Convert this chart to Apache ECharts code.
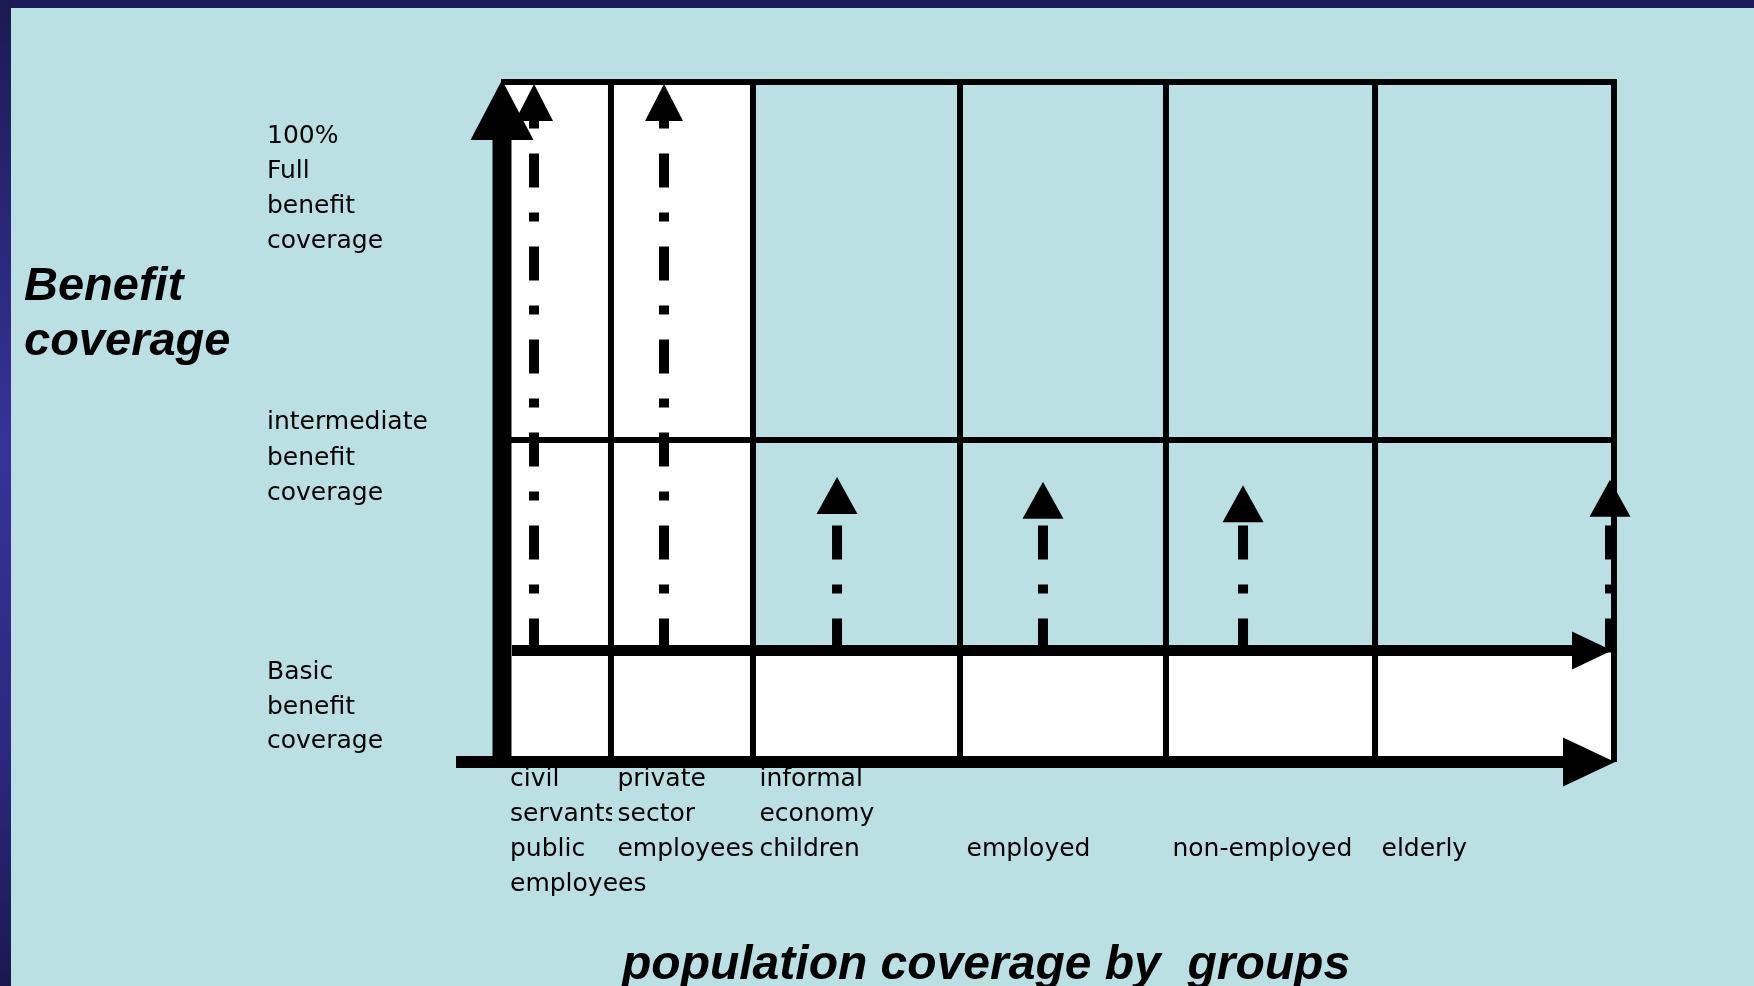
<!DOCTYPE html>
<html><head><meta charset="utf-8">
<script src="https://cdn.jsdelivr.net/npm/echarts@6/dist/echarts.min.js"></script>
<style>html,body{margin:0;padding:0;background:#BAE0E3}#c{width:1754px;height:986px}</style>
</head><body><div id="c"></div>
<script>
// ---- data ----
const groupLabels = ['civil\nservants\npublic\nemployees', 'private\nsector\nemployees', 'informal\neconomy\nchildren', '\n\nemployed', '\n\nnon-employed', '\n\nelderly'];
const groupEdges = [0, 9.80, 22.57, 41.19, 59.71, 78.51, 100];   // column boundaries on the population axis
const whiteTop = [100, 100, 16.4, 16.4, 16.4, 16.4];              // height of the white (covered) part of each column
const levelValues = [16.4, 47.35, 100];                           // basic, intermediate, full
const levelLabels = ['Basic\nbenefit\ncoverage', 'intermediate\nbenefit\ncoverage', '100%\nFull\nbenefit\ncoverage'];
const arrowX = [2.88, 14.57, 30.13, 48.65, 66.64, 99.64];         // position of each group's arrow
const arrowTop = [99.7, 99.7, 41.9, 41.2, 40.7, 41.5];            // tip of each group's arrow
const yTitle = 'Benefit\ncoverage';
const xTitle = 'population coverage by  groups';

const LBL = '"DejaVu Sans", sans-serif';
const chart = echarts.init(document.getElementById('c'), null, {renderer: 'canvas'});

const colData = groupEdges.slice(0, -1).map((e, i) => [e, groupEdges[i + 1], whiteTop[i], i]);
const labelLines = groupLabels.map(s => s.split('\n'));

chart.setOption({
  backgroundColor: '#BAE0E3',
  animation: false,
  grid: {left: 502, right: 140, top: 82, bottom: 224},
  xAxis: {type: 'value', min: 0, max: 100, show: false},
  yAxis: {type: 'value', min: 0, max: 100, show: false},
  graphic: [
    {type: 'rect', left: 0, top: 0, z: 100, shape: {width: 1754, height: 8}, style: {fill: '#1D1B57'}},
    {type: 'rect', left: 0, top: 0, z: 100, shape: {width: 11, height: 986}, style: {fill: new echarts.graphic.LinearGradient(0, 0, 0, 1, [
      {offset: 0, color: '#1C1A52'}, {offset: 0.45, color: '#36339A'}, {offset: 0.75, color: '#2C2980'}, {offset: 1, color: '#1B1850'}])}},
    {type: 'text', x: 24, y: 260, style: {text: yTitle, font: 'italic bold 47px "Liberation Sans", Arial, sans-serif', lineHeight: 55, fill: '#000', verticalAlign: 'top'}},
    {type: 'text', x: 622, y: 966, style: {text: xTitle, font: 'italic bold 48px "Liberation Sans", Arial, sans-serif', fill: '#000', verticalAlign: 'middle'}},
    {type: 'text', x: 267, y: 118.5, style: {text: levelLabels[2], font: '25px ' + LBL, lineHeight: 35, fill: '#000', verticalAlign: 'top'}},
    {type: 'text', x: 267, y: 405, style: {text: levelLabels[1], font: '25px ' + LBL, lineHeight: 35.5, fill: '#000', verticalAlign: 'top'}},
    {type: 'text', x: 267, y: 655.5, style: {text: levelLabels[0], font: '25px ' + LBL, lineHeight: 34.5, fill: '#000', verticalAlign: 'top'}}
  ],
  series: [
    { // white (covered) parts of each column
      type: 'custom', coordinateSystem: 'cartesian2d', silent: true, z: 1, clip: false,
      data: colData,
      renderItem(params, api) {
        const a = api.coord([api.value(0), 0]);
        const b = api.coord([api.value(1), api.value(2)]);
        return {type: 'rect', shape: {x: a[0], y: b[1], width: b[0] - a[0], height: a[1] - b[1]}, style: {fill: '#FFFFFF'}};
      }
    },
    { // group labels (a line is cut where the next column's label begins)
      type: 'custom', coordinateSystem: 'cartesian2d', silent: true, z: 1, clip: false,
      data: colData,
      renderItem(params, api) {
        const i = api.value(3);
        const a = api.coord([api.value(0), 0]);
        const b = api.coord([api.value(1), 0]);
        const x = a[0] + (i === 0 ? 8 : 6.5);
        const ch = [];
        labelLines[i].forEach((line, j) => {
          if (!line) return;
          const y = a[1] - 0.5 + j * 35;
          const el = {type: 'text', style: {x: x, y: y, text: line, font: '25px ' + LBL, lineHeight: 35, fill: '#000', verticalAlign: 'top'}};
          const next = labelLines[i + 1];
          if (next && next[j]) {
            el.clipPath = {type: 'rect', shape: {x: x - 4, y: y - 5, width: b[0] + 1 - (x - 4), height: 45}};
          }
          ch.push(el);
        });
        return {type: 'group', children: ch};
      }
    },
    { // grid lines: column separators and level lines
      type: 'custom', coordinateSystem: 'cartesian2d', silent: true, z: 3, clip: false,
      data: [[0]],
      renderItem(params, api) {
        const ch = [];
        const topY = api.coord([0, levelValues[2]])[1];
        for (let k = 1; k < groupEdges.length; k++) {
          const p = api.coord([groupEdges[k], 0]);
          ch.push({type: 'line', shape: {x1: p[0], y1: p[1], x2: p[0], y2: topY - 3}, style: {stroke: '#000', lineWidth: 6}});
        }
        const l0 = api.coord([0, 0])[0], r0 = api.coord([100, 0])[0];
        ch.push({type: 'line', shape: {x1: l0 - 1, y1: topY, x2: r0 + 3, y2: topY}, style: {stroke: '#000', lineWidth: 6}});
        const iy = api.coord([0, levelValues[1]])[1];
        ch.push({type: 'line', shape: {x1: l0 + 9, y1: iy, x2: r0, y2: iy}, style: {stroke: '#000', lineWidth: 6}});
        return {type: 'group', children: ch};
      }
    },
    { // dash-dot arrows of each group
      type: 'custom', coordinateSystem: 'cartesian2d', silent: true, z: 4, clip: false,
      data: arrowX.map((x, i) => [x, arrowTop[i]]),
      encode: {x: 0, y: 1},
      renderItem(params, api) {
        const p0 = api.coord([api.value(0), levelValues[0]]);
        const apex = api.coord([api.value(0), api.value(1)]);
        const hh = 37, hw = params.dataIndex < 2 ? 19 : 20.5;
        const baseY = apex[1] + hh;
        return {type: 'group', children: [
          {type: 'line', shape: {x1: p0[0], y1: p0[1] + 2, x2: p0[0], y2: baseY}, style: {stroke: '#000', lineWidth: 10, lineDash: [34, 25, 9, 25], lineCap: 'butt'}},
          {type: 'polygon', shape: {points: [[apex[0], apex[1]], [apex[0] - hw, baseY], [apex[0] + hw, baseY]]}, style: {fill: '#000'}}
        ]};
      }
    },
    { // axes and basic-coverage arrow
      type: 'custom', coordinateSystem: 'cartesian2d', silent: true, z: 5, clip: false,
      data: [[0, 0]],
      renderItem(params, api) {
        const o = api.coord([0, 0]);
        const tr = api.coord([100, 100]);
        const by = api.coord([0, levelValues[0]])[1];
        const ch = [];
        // vertical axis
        const apexY = tr[1] - 2;
        ch.push({type: 'rect', shape: {x: o[0] - 9.5, y: apexY + 58, width: 19, height: o[1] + 6 - (apexY + 58)}, style: {fill: '#000'}});
        ch.push({type: 'polygon', shape: {points: [[o[0], apexY], [o[0] - 31.5, apexY + 60], [o[0] + 31.5, apexY + 60]]}, style: {fill: '#000'}});
        // horizontal axis
        const tipX = tr[0] + 1;
        ch.push({type: 'rect', shape: {x: o[0] - 46, y: o[1] - 6, width: tipX - 52 - (o[0] - 46) + 2, height: 12}, style: {fill: '#000'}});
        ch.push({type: 'polygon', shape: {points: [[tipX, o[1]], [tipX - 52, o[1] - 24.5], [tipX - 52, o[1] + 24.5]]}, style: {fill: '#000'}});
        // basic coverage arrow
        const btip = tr[0] - 2;
        ch.push({type: 'rect', shape: {x: o[0] + 10, y: by - 5.5, width: btip - 40 - (o[0] + 10) + 2, height: 11}, style: {fill: '#000'}});
        ch.push({type: 'polygon', shape: {points: [[btip, by], [btip - 40, by - 19], [btip - 40, by + 19]]}, style: {fill: '#000'}});
        return {type: 'group', children: ch};
      }
    }
  ]
});
</script>
</body></html>
